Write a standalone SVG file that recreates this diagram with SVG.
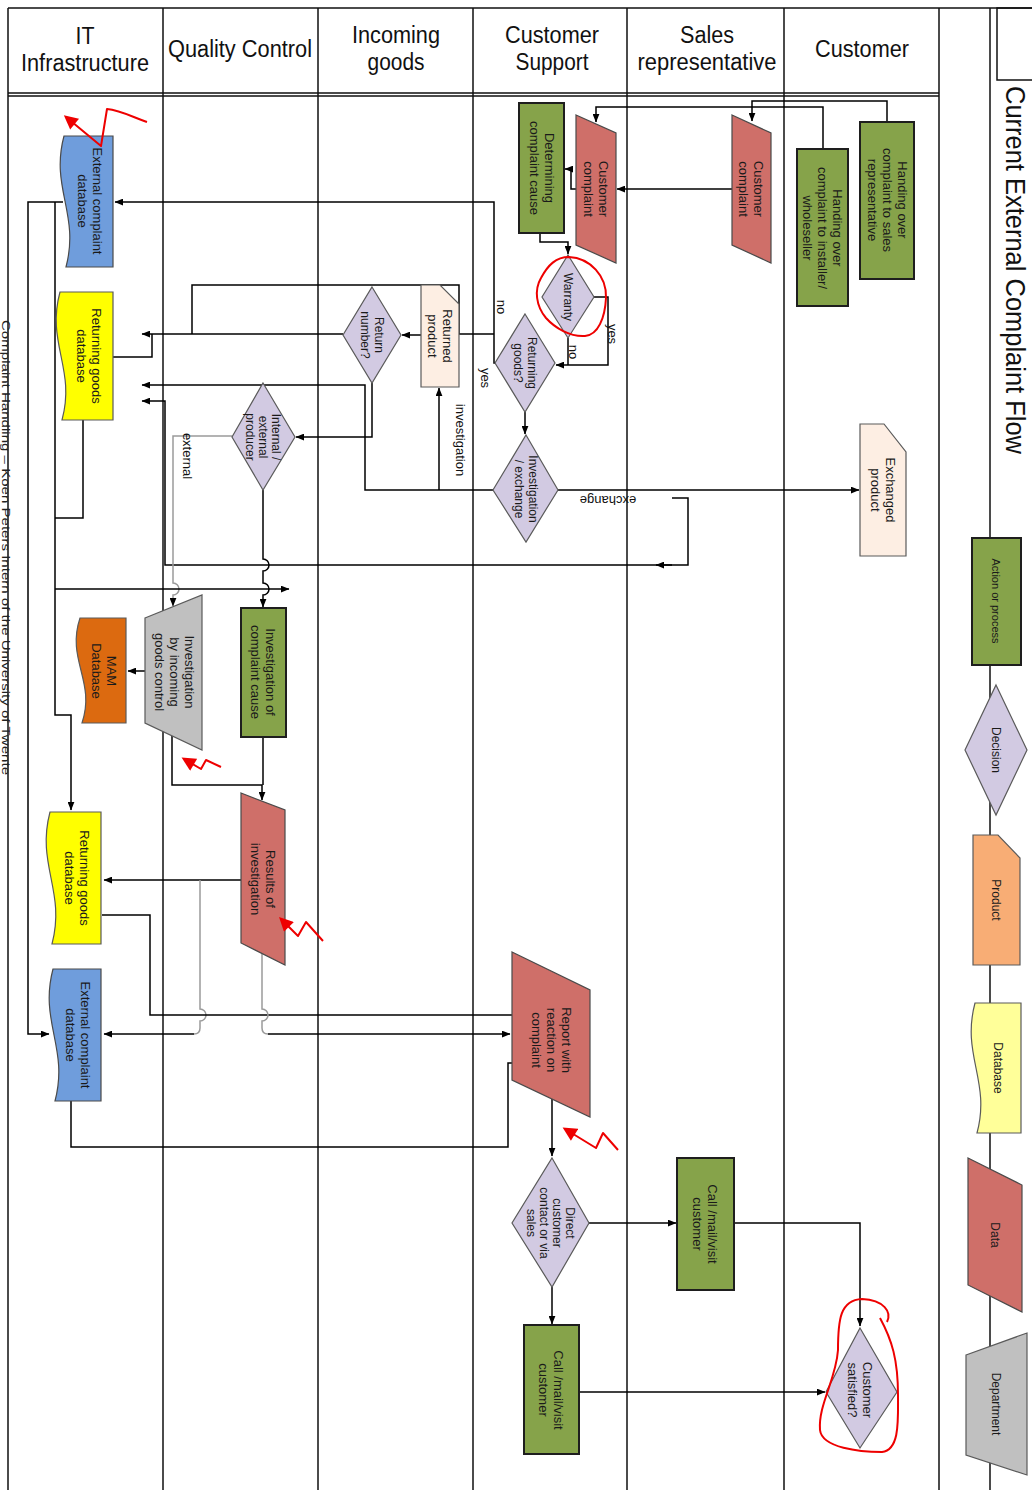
<svg xmlns="http://www.w3.org/2000/svg" width="1032" height="1490" viewBox="0 0 1032 1490">
<defs>
<style>
.lane{stroke:#111;stroke-width:1.5;fill:none}
.hd{font-family:"Liberation Sans",Arial,sans-serif;font-size:23px;fill:#111;text-anchor:middle}
.t{font-family:"Liberation Sans",Arial,sans-serif;font-size:13px;fill:#1a1a1a;text-anchor:middle}
.s{font-size:12px}
.xs{font-size:11px}
.lbl{font-family:"Liberation Sans",Arial,sans-serif;font-size:13px;fill:#111;text-anchor:middle}
.act{fill:#86a34a;stroke:#1e1e1e;stroke-width:2}
.dec{fill:#d2cae2;stroke:#5a5a5a;stroke-width:1.2}
.data{fill:#cf6f69;stroke:#4a4a4a;stroke-width:1.2}
.prod{fill:#fdeee3;stroke:#5a5a5a;stroke-width:1.2}
.dbb{fill:#6f9ddc;stroke:#4a4a4a;stroke-width:1.2}
.dby{fill:#ffff00;stroke:#5a5a5a;stroke-width:1.2}
.dept{fill:#c0c0c0;stroke:#5a5a5a;stroke-width:1.2}
.c{fill:none;stroke:#000;stroke-width:1.5}
.g{stroke:#9a9a9a}
.a{marker-end:url(#ah)}
.red{fill:none;stroke:#ee0000;stroke-width:2;stroke-linejoin:round}
.ra{marker-end:url(#rah)}
</style>
<marker id="ah" viewBox="0 0 10 8" markerWidth="9" markerHeight="7" refX="9.5" refY="4" orient="auto" markerUnits="userSpaceOnUse"><path d="M0,0 L10,4 L0,8 Z" fill="#000"/></marker>
<marker id="rah" viewBox="0 0 10 10" markerWidth="15" markerHeight="14" refX="8" refY="5" orient="auto" markerUnits="userSpaceOnUse"><path d="M0,0 L10,5 L0,10 Z" fill="#ee0000"/></marker>
</defs>
<rect x="0" y="0" width="1032" height="1490" fill="#fff"/>

<g id="lanes">
<path class="lane" d="M8,8 H1032 M8,8 V1490 M163,8 V1490 M318,8 V1490 M473,8 V1490 M627,8 V1490 M784,8 V1490 M939,8 V1490 M990,8 V1490"/>
<path class="lane" d="M8,93 H939 M8,96 H939"/>
<rect x="997" y="8" width="45" height="72" fill="none" stroke="#111" stroke-width="1.5"/>
<text class="hd"><tspan x="85" y="44" textLength="19" lengthAdjust="spacingAndGlyphs">IT</tspan><tspan x="85" y="71" textLength="128" lengthAdjust="spacingAndGlyphs">Infrastructure</tspan></text>
<text class="hd" x="240" y="57" textLength="144" lengthAdjust="spacingAndGlyphs">Quality Control</text>
<text class="hd"><tspan x="396" y="43" textLength="88" lengthAdjust="spacingAndGlyphs">Incoming</tspan><tspan x="396" y="70" textLength="57" lengthAdjust="spacingAndGlyphs">goods</tspan></text>
<text class="hd"><tspan x="552" y="43" textLength="94" lengthAdjust="spacingAndGlyphs">Customer</tspan><tspan x="552" y="70" textLength="73" lengthAdjust="spacingAndGlyphs">Support</tspan></text>
<text class="hd"><tspan x="707" y="43" textLength="54" lengthAdjust="spacingAndGlyphs">Sales</tspan><tspan x="707" y="70" textLength="139" lengthAdjust="spacingAndGlyphs">representative</tspan></text>
<text class="hd" x="862" y="57" textLength="94" lengthAdjust="spacingAndGlyphs">Customer</text>
<text font-family="Liberation Sans, Arial, sans-serif" font-size="27" fill="#111" transform="translate(1006,86) rotate(90)" textLength="368" lengthAdjust="spacingAndGlyphs">Current External Complaint Flow</text>
<text font-family="Liberation Sans, Arial, sans-serif" font-size="10.5" fill="#222" transform="translate(1.5,320) rotate(90)" textLength="455" lengthAdjust="spacingAndGlyphs">Complaint Handling – Koen Peters Intern of the University of Twente</text>
</g>

<g id="connectors">
<path class="c a" d="M887,122 V101 H752 V121"/>
<path class="c a" d="M823,149 V107 H596 V122"/>
<path class="c a" d="M732,189 H617"/>
<path class="c a" d="M576,189 H571 V169 H565"/>
<path class="c a" d="M540,233 V242 H568 V254"/>
<path class="c a" d="M594,297 H608 V365 H556"/>
<path class="c" d="M568,338 V365"/>
<path class="c a" d="M495,363 H494 V202 H115"/>
<path class="c" d="M494,334 H459 V285 H192 V334"/>
<path class="c a" d="M343,334 H142"/>
<path class="c" d="M113,357 H152 V334"/>
<path class="c a" d="M421,335 H402"/>
<path class="c a" d="M372,383 V437 H296"/>
<path class="c a" d="M493,490 H365 V385 H142"/>
<path class="c a" d="M439,490 V388"/>
<path class="c a" d="M525,412 V434"/>
<path class="c a" d="M558,490 H859"/>
<path class="c a" d="M672,498 H688 V565 H165 V401 H142"/>
<path class="c a" d="M672,565 H656"/>
<path class="c g a" d="M232,436 H173 V583 A6,6 0 0 1 173,595 V606"/>
<path class="c a" d="M263,490 V559 A6,6 0 0 1 263,571 V583 A6,6 0 0 1 263,595 V607"/>
<path class="c a" d="M55,589 H289"/>
<path class="c a" d="M63,202 H28 V1034 H49"/>
<path class="c a" d="M55,202 V715 H71 V810"/>
<path class="c" d="M83,420 V518 H55"/>
<path class="c a" d="M145,671 H128"/>
<path class="c a" d="M172,736 V785 H262 V800"/>
<path class="c" d="M263,737 V785"/>
<path class="c a" d="M241,880 H104"/>
<path class="c g" d="M200,880 V1009 A6,6 0 0 1 200,1021 V1028 Q200,1034 194,1034"/>
<path class="c a" d="M194,1034 H104"/>
<path class="c a" d="M102,915 H150 V1015 H533"/>
<path class="c g" d="M262,954 V1009 A6,6 0 0 1 262,1021 V1028 Q262,1034 268,1034"/>
<path class="c a" d="M268,1034 H510"/>
<path class="c a" d="M71,1101 V1147 H508 V1063 H535"/>
<path class="c a" d="M552,1099 V1156"/>
<path class="c a" d="M589,1223 H676"/>
<path class="c a" d="M734,1223 H860 V1326"/>
<path class="c a" d="M552,1287 V1324"/>
<path class="c a" d="M579,1392 H825"/>
<text class="lbl" transform="translate(497,307) rotate(90)">no</text>
<text class="lbl" transform="translate(608,334) rotate(90)">yes</text>
<text class="lbl" transform="translate(569,352) rotate(90)">no</text>
<text class="lbl" transform="translate(481,378) rotate(90)">yes</text>
<text class="lbl" transform="translate(456,440) rotate(90)">investigation</text>
<text class="lbl" transform="translate(183,456) rotate(90)">external</text>
<text class="lbl" font-size="14" transform="translate(608,496) rotate(180)">exchange</text>
</g>

<g id="n-extdb1"><path class="dbb" d="M113,136 H64 C50,188 80,214 66,267 H113 Z"/><text class="t" transform="translate(90,201) rotate(90)"><tspan x="0" y="-3">External complaint</tspan><tspan x="0" y="12">database</tspan></text></g>
<g id="n-retdb1"><path class="dby" d="M113,292 H60 C46,343 76,369 62,420 H113 Z"/><text class="t" transform="translate(89,356) rotate(90)"><tspan x="0" y="-3">Returning goods</tspan><tspan x="0" y="12">database</tspan></text></g>
<g id="n-retnum"><path class="dec" d="M372,287 L401,335 L372,383 L343,335 Z"/><text class="t s" transform="translate(372,335) rotate(90)"><tspan x="0" y="-2.5">Return</tspan><tspan x="0" y="11">number?</tspan></text></g>
<g id="n-retprod"><path class="prod" d="M421,285 H440 L459,304 V387 H421 Z"/><text class="t" transform="translate(440,336) rotate(90)"><tspan x="0" y="-3">Returned</tspan><tspan x="0" y="12">product</tspan></text></g>
<g id="n-intext"><path class="dec" d="M263,383 L295,437 L263,490 L232,437 Z"/><text class="t s" transform="translate(263,437) rotate(90)"><tspan x="0" y="-8.8">Internal /</tspan><tspan x="0" y="4.2">external</tspan><tspan x="0" y="17.2">producer</tspan></text></g>
<g id="n-retgoods"><path class="dec" d="M525,314 L555,363 L525,412 L495,363 Z"/><text class="t s" transform="translate(525,363) rotate(90)"><tspan x="0" y="-2.5">Returning</tspan><tspan x="0" y="11">goods?</tspan></text></g>
<g id="n-warranty"><path class="dec" d="M568,255 L594,297 L568,338 L542,297 Z"/><text class="t s" transform="translate(568,297) rotate(90)" y="4.2">Warranty</text></g>
<g id="n-invex"><path class="dec" d="M526,435 L558,490 L526,542 L493,490 Z"/><text class="t s" transform="translate(526,489) rotate(90)"><tspan x="0" y="-2.5">Investigation</tspan><tspan x="0" y="11">/ exchange</tspan></text></g>
<g id="n-determ"><rect class="act" x="519" y="103" width="45" height="130"/><text class="t" transform="translate(542,168) rotate(90)"><tspan x="0" y="-3">Determining</tspan><tspan x="0" y="12">complaint cause</tspan></text></g>
<g id="n-cscompl"><path class="data" d="M576,115 L616,133 V263 L576,245 Z"/><text class="t" transform="translate(596,189) rotate(90)"><tspan x="0" y="-3">Customer</tspan><tspan x="0" y="12">complaint</tspan></text></g>
<g id="n-srcompl"><path class="data" d="M732,115 L771,133 V263 L732,245 Z"/><text class="t" transform="translate(751,189) rotate(90)"><tspan x="0" y="-3">Customer</tspan><tspan x="0" y="12">complaint</tspan></text></g>
<g id="n-handinst"><rect class="act" x="797" y="149" width="51" height="157"/><text class="t" transform="translate(822,228) rotate(90)"><tspan x="0" y="-10.5">Handing over</tspan><tspan x="0" y="4.5">complaint to installer/</tspan><tspan x="0" y="19.5">wholeseller</tspan></text></g>
<g id="n-handsales"><rect class="act" x="860" y="122" width="54" height="157"/><text class="t" transform="translate(887,200) rotate(90)"><tspan x="0" y="-10.5">Handing over</tspan><tspan x="0" y="4.5">complaint to sales</tspan><tspan x="0" y="19.5">representative</tspan></text></g>
<g id="n-exchprod"><path class="prod" d="M860,424 H884 L906,452 V556 H860 Z"/><text class="t" transform="translate(883,490) rotate(90)"><tspan x="0" y="-3">Exchanged</tspan><tspan x="0" y="12">product</tspan></text></g>
<g id="n-mam"><path fill="#dc6a10" stroke="#5a5a5a" stroke-width="1.2" d="M126,618 H80 C66,660 96,681 82,723 H126 Z"/><text class="t" transform="translate(104,671) rotate(90)"><tspan x="0" y="-3">MAM</tspan><tspan x="0" y="12">Database</tspan></text></g>
<g id="n-invincoming"><path class="dept" d="M145,618 L202,595 V750 L145,723 Z"/><text class="t" transform="translate(174,672) rotate(90)"><tspan x="0" y="-10.5">Investigation</tspan><tspan x="0" y="4.5">by incoming</tspan><tspan x="0" y="19.5">goods control</tspan></text></g>
<g id="n-invcause"><rect class="act" x="241" y="608" width="45" height="129"/><text class="t" transform="translate(263,672) rotate(90)"><tspan x="0" y="-3">Investigation of</tspan><tspan x="0" y="12">complaint cause</tspan></text></g>
<g id="n-results"><path class="data" d="M241,793 L285,810 V965 L241,943 Z"/><text class="t" transform="translate(263,879) rotate(90)"><tspan x="0" y="-3">Results of</tspan><tspan x="0" y="12">investigation</tspan></text></g>
<g id="n-retdb2"><path class="dby" d="M101,812 H50 C36,865 66,891 52,944 H101 Z"/><text class="t" transform="translate(77,878) rotate(90)"><tspan x="0" y="-3">Returning goods</tspan><tspan x="0" y="12">database</tspan></text></g>
<g id="n-extdb2"><path class="dbb" d="M101,969 H53 C39,1022 69,1048 55,1101 H101 Z"/><text class="t" transform="translate(78,1035) rotate(90)"><tspan x="0" y="-3">External complaint</tspan><tspan x="0" y="12">database</tspan></text></g>
<g id="n-report"><path class="data" d="M512,952 L590,990 V1117 L512,1080 Z"/><text class="t" transform="translate(551,1040) rotate(90)"><tspan x="0" y="-10.5">Report with</tspan><tspan x="0" y="4.5">reaction on</tspan><tspan x="0" y="19.5">complaint</tspan></text></g>
<g id="n-direct"><path class="dec" d="M552,1158 L589,1223 L552,1287 L512,1223 Z"/><text class="t s" transform="translate(551,1223) rotate(90)"><tspan x="0" y="-15.3">Direct</tspan><tspan x="0" y="-2.3">customer</tspan><tspan x="0" y="10.7">contact or via</tspan><tspan x="0" y="23.7">sales</tspan></text></g>
<g id="n-callsr"><rect class="act" x="677" y="1158" width="57" height="132"/><text class="t" transform="translate(705,1224) rotate(90)"><tspan x="0" y="-3">Call /mail/visit</tspan><tspan x="0" y="12">customer</tspan></text></g>
<g id="n-callcs"><rect class="act" x="524" y="1325" width="55" height="129"/><text class="t" transform="translate(551,1390) rotate(90)"><tspan x="0" y="-3">Call /mail/visit</tspan><tspan x="0" y="12">customer</tspan></text></g>
<g id="n-satisfied"><path class="dec" d="M860,1328 L897,1392 L860,1448 L826,1392 Z"/><text class="t" transform="translate(860,1390) rotate(90)"><tspan x="0" y="-3">Customer</tspan><tspan x="0" y="12">satisfied?</tspan></text></g>

<g id="legend">
<g id="lg-action"><rect class="act" x="972" y="538" width="49" height="127"/><text class="t xs" transform="translate(996,601) rotate(90)" y="4">Action or process</text></g>
<g id="lg-decision"><path class="dec" d="M996,685 L1027,750 L996,815 L965,750 Z"/><text class="t s" transform="translate(996,750) rotate(90)" y="4.2">Decision</text></g>
<g id="lg-product"><path fill="#f8ad75" stroke="#5a5a5a" stroke-width="1.2" d="M973,835 H998 L1020,858 V965 H973 Z"/><text class="t s" transform="translate(996,900) rotate(90)" y="4.2">Product</text></g>
<g id="lg-database"><path fill="#ffff99" stroke="#5a5a5a" stroke-width="1.2" d="M1021,1003 H975 C961,1055 991,1081 977,1133 H1021 Z"/><text class="t s" transform="translate(998,1068) rotate(90)" y="4.2">Database</text></g>
<g id="lg-data"><path class="data" d="M968,1158 L1022,1185 V1312 L968,1285 Z"/><text class="t s" transform="translate(995,1235) rotate(90)" y="4.2">Data</text></g>
<g id="lg-dept"><path class="dept" d="M966,1355 L1027,1333 V1475 L966,1455 Z"/><text class="t s" transform="translate(996,1404) rotate(90)" y="4.2">Department</text></g>
</g>

<g id="annotations">
<path class="red ra" d="M147,122 C135,118 120,110 107,109 L101,146 L66,117"/>
<path class="red ra" d="M221,767 L206,760 L201,769 L184,759"/>
<path class="red ra" d="M323,941 L306,922 L298,936 L281,919"/>
<path class="red ra" d="M618,1150 L603,1133 L596,1148 L565,1129"/>
<path class="red" d="M569,257 C590,258 607,276 606,298 C605,318 598,335 585,336 C570,337 555,328 546,318 C536,306 534,290 541,278 C548,265 556,257 569,257 Z"/>
<path class="red" d="M887,1322 C892,1312 884,1300 862,1299 C840,1300 838,1320 838,1350 C836,1380 818,1405 820,1430 C822,1448 860,1452 882,1452 C900,1450 898,1420 898,1395 C898,1360 892,1340 880,1318"/>
</g>
</svg>
